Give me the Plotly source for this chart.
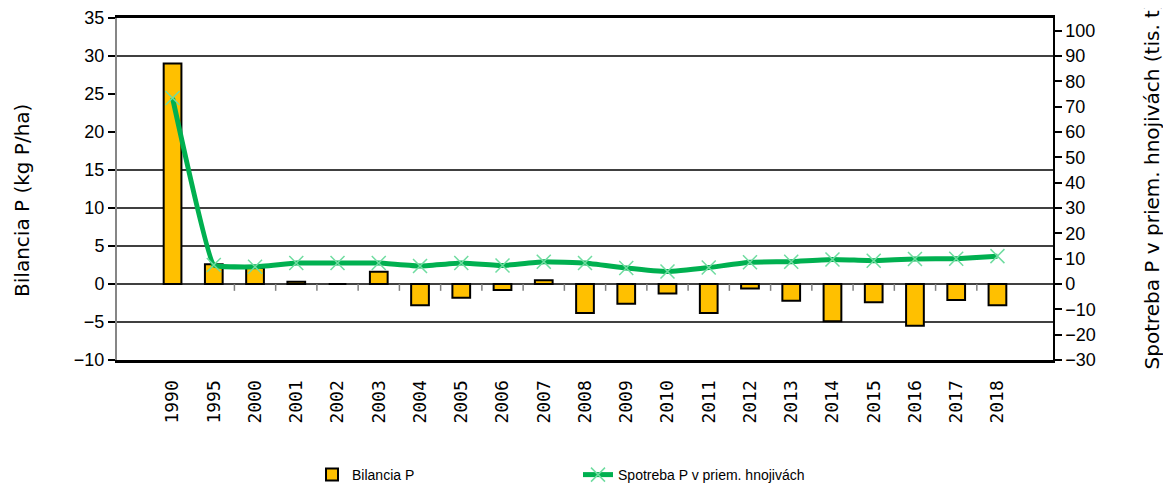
import plotly.graph_objects as go

years = ["1990", "1995", "2000", "2001", "2002", "2003", "2004", "2005", "2006", "2007",
         "2008", "2009", "2010", "2011", "2012", "2013", "2014", "2015", "2016", "2017", "2018"]
bilancia = [29.0, 2.6, 2.1, 0.3, 0.0, 1.6, -2.8, -1.8, -0.8, 0.5,
            -3.8, -2.6, -1.25, -3.8, -0.6, -2.2, -4.9, -2.4, -5.5, -2.1, -2.8]
spotreba = [73.4, 7.5, 6.8, 8.3, 8.3, 8.3, 7.1, 8.3, 7.3, 8.8,
            8.3, 6.3, 4.9, 6.5, 8.6, 8.8, 9.7, 9.2, 9.9, 10.0, 11.0]

left_ticks = [-10, -5, 0, 5, 10, 15, 20, 25, 30, 35]
right_ticks = [-30, -20, -10, 0, 10, 20, 30, 40, 50, 60, 70, 80, 90, 100]
grid_levels = [30, 15, 10, 5, 0, -5]

fig = go.Figure()
fig.add_trace(go.Bar(
    x=years, y=bilancia, name="Bilancia P", yaxis="y",
    width=0.43,
    marker=dict(color="#FFC000", line=dict(color="black", width=2)),
))
fig.add_trace(go.Scatter(
    x=years, y=spotreba, name="Spotreba P v priem. hnojivách", yaxis="y2",
    mode="lines+markers",
    line=dict(color="#00B050", width=5, shape="spline", smoothing=0.25),
    marker=dict(symbol="x-thin", size=14, color="#6FDCA0",
                line=dict(color="#6FDCA0", width=1.5)),
))

shapes = []
for g in grid_levels:
    shapes.append(dict(type="line", xref="paper", yref="y", x0=0, x1=1, y0=g, y1=g,
                       line=dict(color="black", width=1.4), layer="below"))
for k in range(2, len(years)):
    shapes.append(dict(type="line", xref="x", yref="y", x0=k - 0.5, x1=k - 0.5,
                       y0=0, y1=-0.9, line=dict(color="#808080", width=1.5), layer="below"))

tickfont = dict(family="Liberation Sans, Arial, sans-serif", size=18, color="black")

fig.update_layout(
    width=1163, height=478,
    margin=dict(l=109, r=118, t=10, b=126, autoexpand=False),
    paper_bgcolor="white", plot_bgcolor="white",
    showlegend=True,
    shapes=shapes,
    xaxis=dict(
        type="category", tickangle=-90, automargin=False,
        tickfont=dict(family="DejaVu Sans Mono, monospace", size=18, color="black"),
        showline=True, linecolor="black", linewidth=3, mirror=True,
        ticks="", showgrid=False, ticklabelstandoff=10,
    ),
    yaxis=dict(
        range=[-10, 35], tickvals=left_ticks, showgrid=False, zeroline=False,
        showline=True, linecolor="#868686", linewidth=2, automargin=False,
        ticks="outside", ticklen=7, tickcolor="black", tickwidth=1.5,
        tickfont=tickfont,
    ),
    yaxis2=dict(
        range=[-30, 105], tickvals=right_ticks, overlaying="y", side="right",
        showgrid=False, zeroline=False, automargin=False,
        showline=True, linecolor="black", linewidth=1.5,
        ticks="outside", ticklen=7, tickcolor="black", tickwidth=1.5,
        tickfont=tickfont,
    ),
    legend=dict(
        orientation="h", xref="container", yref="container",
        x=0.2614, y=0.023, xanchor="left", yanchor="middle",
        entrywidth=221, entrywidthmode="pixels",
        font=dict(family="Liberation Sans Narrow, Liberation Sans, Arial, sans-serif", size=14, color="black"),
        bgcolor="rgba(0,0,0,0)",
    ),
    annotations=[
        dict(text="Bilancia P (kg P/ha)", textangle=-90, xref="paper", yref="paper",
             x=-0.1015, y=0.468, xanchor="center", yanchor="middle", showarrow=False,
             font=dict(family="DejaVu Sans, sans-serif", size=20, color="black")),
        dict(text="Spotreba P v priem. hnojivách (tis. t)", textangle=-90, xref="paper", yref="paper",
             x=1.1058, y=-0.035, xanchor="center", yanchor="bottom", showarrow=False,
             font=dict(family="DejaVu Sans, sans-serif", size=20, color="black")),
    ],
)

fig.write_html("out.html")
